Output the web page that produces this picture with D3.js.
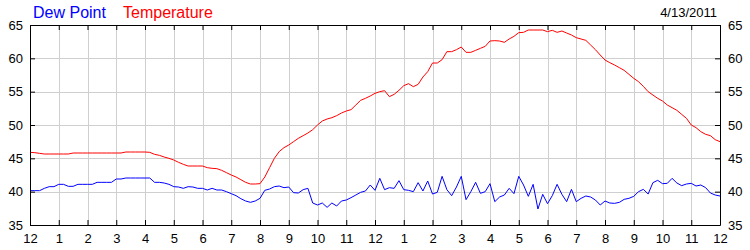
<!DOCTYPE html>
<html>
<head>
<meta charset="utf-8">
<script src="https://cdn.jsdelivr.net/npm/d3@7"></script>
<style>
  body { margin: 0; background: #fff; }
  text { font-family: "Liberation Sans", Arial, sans-serif; }
</style>
</head>
<body>
<script>
// readings every 10 minutes from midnight to midnight (145 values)
var temperature = [
  45.9, 45.85, 45.75, 45.65, 45.65, 45.65,
  45.65, 45.65, 45.65, 45.8, 45.8, 45.8,
  45.8, 45.8, 45.8, 45.8, 45.8, 45.8,
  45.8, 45.8, 45.95, 45.95, 45.95, 45.95,
  45.95, 45.9, 45.6, 45.45, 45.2, 45.0,
  44.75, 44.4, 44.1, 43.85, 43.85, 43.85,
  43.85, 43.6, 43.5, 43.45, 43.2, 42.85,
  42.5, 42.2, 41.8, 41.4, 41.15, 41.15,
  41.2, 42.2, 43.6, 45.0, 46.0, 46.6,
  47.0, 47.5, 48.0, 48.4, 48.8, 49.3,
  50.0, 50.6, 50.9, 51.1, 51.4, 51.8,
  52.1, 52.3, 53.0, 53.7, 54.0, 54.35,
  54.75, 55.0, 55.15, 54.25, 54.6, 55.2,
  55.9, 56.2, 55.75, 56.1, 57.2, 58.0,
  59.3, 59.3, 59.8, 61.0, 61.0, 61.3,
  61.7, 60.9, 60.9, 61.2, 61.5, 61.8,
  62.6, 62.65, 62.6, 62.4, 62.9, 63.3,
  63.85, 63.9, 64.25, 64.25, 64.25, 64.25,
  64.0, 64.2, 63.9, 64.1, 63.8, 63.5,
  63.1, 62.9, 62.7, 62.0, 61.3, 60.5,
  59.75, 59.35, 59.0, 58.6, 58.2, 57.6,
  57.0, 56.5, 55.8, 55.0, 54.5, 54.0,
  53.6, 53.0, 52.6, 52.2, 51.6, 51.0,
  50.0, 49.6, 49.0, 48.6, 48.4, 47.8,
  47.5
];

var dewPoint = [
  40.15, 40.15, 40.15, 40.5, 40.75, 40.75,
  41.1, 41.1, 40.8, 40.8, 41.1, 41.1,
  41.1, 41.1, 41.4, 41.4, 41.4, 41.4,
  41.9, 41.9, 42.05, 42.05, 42.05, 42.05,
  42.05, 42.05, 41.4, 41.4, 41.3, 41.1,
  40.75, 40.7, 40.5, 40.75, 40.7, 40.5,
  40.5, 40.25, 40.5, 40.25, 40.25, 40.0,
  39.7, 39.4, 38.95, 38.6, 38.4, 38.6,
  39.0, 40.2, 40.4, 40.75, 40.85, 40.6,
  40.7, 39.85, 39.8, 40.3, 40.5, 38.3,
  38.0, 38.3, 37.65, 38.3, 37.85, 38.6,
  38.75, 39.1, 39.5, 39.9, 40.1, 41.0,
  40.2, 42.0, 40.3, 40.6, 40.5, 41.65,
  40.3, 40.2, 40.0, 41.35, 40.1, 41.6,
  39.65, 39.9, 42.3, 40.3, 39.4, 40.7,
  42.3, 38.8, 40.0, 41.4, 39.75, 40.0,
  41.2, 38.5, 39.2, 39.5, 40.5, 39.7,
  42.3, 41.0, 39.3, 41.1, 37.4, 39.6,
  38.2, 39.4, 41.1, 39.6, 38.5, 40.35,
  38.5, 39.0, 39.35, 39.2, 38.75, 38.0,
  38.6, 38.3, 38.25, 38.4, 38.85, 39.0,
  39.3, 40.0, 40.35, 39.65, 41.35, 41.7,
  41.2, 41.25, 42.0, 41.3, 40.9, 41.15,
  41.25, 40.85, 41.0, 40.6, 39.8, 39.5,
  39.35
];

var hourLabels = ["12","1","2","3","4","5","6","7","8","9","10","11",
                  "12","1","2","3","4","5","6","7","8","9","10","11","12"];
var yTicks = [35, 40, 45, 50, 55, 60, 65];
var legend = [
  { name: "Dew Point", color: "#0000ff" },
  { name: "Temperature", color: "#ff0000" }
];
var dateLabel = "4/13/2011";

var w = 750, h = 250;
var plotLeft = 30, plotRight = 720, plotTop = 25, plotBottom = 225;

var svg = d3.select("body").append("svg")
  .attr("width", w)
  .attr("height", h);

var x = d3.scaleLinear().domain([0, 24]).range([plotLeft, plotRight]);
var y = d3.scaleLinear().domain([35, 65]).range([plotBottom, plotTop]);

// gridlines
var grid = svg.append("g").attr("class", "grid")
  .attr("stroke", "#cfcfcf")
  .attr("stroke-width", 1);

grid.selectAll(".vgrid")
  .data(d3.range(1, 24))
  .enter().append("line")
  .attr("x1", function(d){ return Math.round(x(d)) + 0.5; })
  .attr("x2", function(d){ return Math.round(x(d)) + 0.5; })
  .attr("y1", plotTop)
  .attr("y2", plotBottom);

grid.selectAll(".hgrid")
  .data(yTicks.slice(1, -1))
  .enter().append("line")
  .attr("x1", plotLeft)
  .attr("x2", plotRight)
  .attr("y1", function(d){ return Math.round(y(d)) + 0.5; })
  .attr("y2", function(d){ return Math.round(y(d)) + 0.5; });

// data lines, index -> hours after midnight
var hourOf = function(i){ return i / 6; };

var line = function(values){
  return d3.line()
    .x(function(d, i){ return x(hourOf(i)); })
    .y(function(d){ return y(d); })(values);
};

svg.append("path")
  .attr("d", line(dewPoint))
  .attr("fill", "none")
  .attr("stroke", "#0000ff")
  .attr("stroke-width", 1);

svg.append("path")
  .attr("d", line(temperature))
  .attr("fill", "none")
  .attr("stroke", "#ff0000")
  .attr("stroke-width", 1);

// axes: ticks point inward on all four sides
var hourTicks = d3.range(0, 25);

var xBottom = d3.axisBottom(x)
  .tickValues(hourTicks)
  .tickFormat(function(d){ return hourLabels[d]; })
  .tickSizeInner(-5)
  .tickSizeOuter(0)
  .tickPadding(8.5);

var xTop = d3.axisTop(x)
  .tickValues(hourTicks)
  .tickFormat("")
  .tickSizeInner(-5)
  .tickSizeOuter(0);

var yLeft = d3.axisLeft(y)
  .tickValues(yTicks)
  .tickSizeInner(-5)
  .tickSizeOuter(0)
  .tickPadding(7);

var yRight = d3.axisRight(y)
  .tickValues(yTicks)
  .tickSizeInner(-5)
  .tickSizeOuter(0)
  .tickPadding(8);

var axes = [
  svg.append("g").attr("transform", "translate(0," + plotBottom + ")").call(xBottom),
  svg.append("g").attr("transform", "translate(0," + plotTop + ")").call(xTop),
  svg.append("g").attr("transform", "translate(" + plotLeft + ",0)").call(yLeft),
  svg.append("g").attr("transform", "translate(" + plotRight + ",0)").call(yRight)
];

axes.forEach(function(a){
  a.selectAll("path, line").attr("stroke", "#000");
  a.selectAll("text")
    .attr("fill", "#000")
    .style("font-family", "'Liberation Sans', Arial, sans-serif")
    .style("font-size", "13px");
});

// legend
var legendX = [33, 123];
svg.selectAll(".legend")
  .data(legend)
  .enter().append("text")
  .attr("class", "legend")
  .attr("x", function(d, i){ return legendX[i]; })
  .attr("y", 17.5)
  .attr("fill", function(d){ return d.color; })
  .style("font-size", "16px")
  .text(function(d){ return d.name; });

svg.append("text")
  .attr("x", 717)
  .attr("y", 16.7)
  .attr("text-anchor", "end")
  .attr("fill", "#000")
  .style("font-size", "13px")
  .text(dateLabel);
</script>
</body>
</html>
